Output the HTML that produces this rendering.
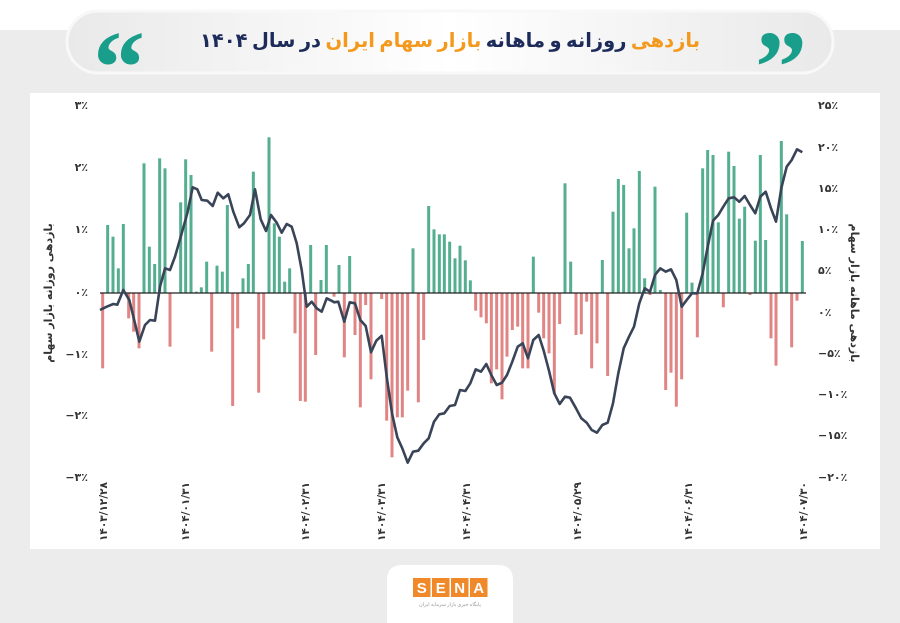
<!DOCTYPE html>
<html><head><meta charset="utf-8"><style>
body{margin:0;width:900px;height:623px;overflow:hidden;background:#ececec;font-family:"Liberation Sans","Noto Sans CJK SC",sans-serif}
</style></head><body>
<svg width="900" height="623" viewBox="0 0 900 623" xmlns="http://www.w3.org/2000/svg" id="s" style="position:absolute;left:0;top:0">
<defs><linearGradient id="pg" x1="0" x2="1"><stop offset="0" stop-color="#e9e9e9"/><stop offset="0.5" stop-color="#ffffff"/><stop offset="1" stop-color="#e9e9e9"/></linearGradient></defs>
<rect x="0" y="0" width="900" height="623" fill="#ececec"/>
<rect x="0" y="0" width="900" height="30" fill="#ffffff"/>
<rect x="30" y="93" width="850" height="456" fill="#ffffff"/>
<rect x="67" y="11" width="766" height="62" rx="31" fill="url(#pg)" stroke="#f8f8f8" stroke-width="3"/>
<text x="119" y="102" font-size="104" font-weight="bold" fill="#1a9e8c" text-anchor="middle" font-family="Liberation Serif,serif">&#8220;</text>
<text x="781" y="102" font-size="104" font-weight="bold" fill="#1a9e8c" text-anchor="middle" font-family="Liberation Serif,serif">&#8221;</text>
<text x="450" y="47" font-size="19.5" font-weight="bold" text-anchor="middle" direction="rtl" font-family="'Noto Sans CJK SC','DejaVu Sans',sans-serif"><tspan fill="#f39a1e">بازدهی</tspan><tspan fill="#1c2b5a"> روزانه و ماهانه </tspan><tspan fill="#f39a1e">بازار سهام ایران</tspan><tspan fill="#1c2b5a"> در سال ۱۴۰۴</tspan></text>
<g id="plot"></g>
<g font-size="11" font-weight="bold" fill="#333" font-family="'DejaVu Sans',sans-serif">
<g text-anchor="end">
<text x="88" y="109">۳٪</text><text x="88" y="171">۲٪</text><text x="88" y="233">۱٪</text><text x="88" y="296">۰٪</text>
<text x="88" y="358">−۱٪</text><text x="88" y="419">−۲٪</text><text x="88" y="481">−۳٪</text></g>
<g text-anchor="start">
<text x="818" y="109">۲۵٪</text><text x="818" y="151">۲۰٪</text><text x="818" y="192">۱۵٪</text><text x="818" y="233">۱۰٪</text>
<text x="818" y="274">۵٪</text><text x="818" y="316">۰٪</text><text x="818" y="357">−۵٪</text><text x="818" y="398">−۱۰٪</text>
<text x="818" y="439">−۱۵٪</text><text x="818" y="481">−۲۰٪</text></g>
<text transform="translate(52,293) rotate(-90)" text-anchor="middle" font-size="11">بازدهی روزانه بازار سهام</text>
<text transform="translate(851,293) rotate(90)" text-anchor="middle" font-size="11">بازدهی ماهانه بازار سهام</text>
<g id="xl" font-size="10.5"></g>
</g>
<path d="M387 623 V580 Q387 565 402 565 H498 Q513 565 513 580 V623 Z" fill="#ffffff"/>
<g font-size="15" font-weight="bold" fill="#fff" text-anchor="middle">
<rect x="413" y="578" width="17.5" height="19" fill="#f0892a"/><rect x="432" y="578" width="17.5" height="19" fill="#f0892a"/>
<rect x="451" y="578" width="17.5" height="19" fill="#f0892a"/><rect x="470" y="578" width="17.5" height="19" fill="#f0892a"/>
<text x="421.7" y="593">S</text><text x="440.7" y="593">E</text><text x="459.7" y="593">N</text><text x="478.7" y="593">A</text></g>
<text x="450" y="606" font-size="5" fill="#999" text-anchor="middle" font-family="'Noto Sans CJK SC',sans-serif">پایگاه خبری بازار سرمایه ایران</text>
</svg>
<script>
var NS="http://www.w3.org/2000/svg";
function el(t,a,p){var e=document.createElementNS(NS,t);for(var k in a)e.setAttribute(k,a[k]);p.appendChild(e);return e;}
var plot=document.getElementById('plot');
var b4=[[8,805],[23,375],[39,410],[55,505],[70,372],[86,655],[101,695],[117,745],[132,190],[148,440],[164,492],[179,175],[195,205],[210,740],[242,307],[257,178],[273,225],[289,575],[304,562],[320,485],[335,755],[351,497],[367,515],[382,315],[398,918],[413,685],[429,535],[445,492],[460,215],[476,878],[491,718],[507,112],[523,370],[538,410],[554,545],[569,505],[585,700],[601,903],[616,905],[632,435],[647,765],[663,540],[679,435]];
var b5=[[12,590],[27,495],[43,772],[59,468],[75,705],[91,922],[107,615],[123,838],[155,597],[170,962],[186,1072],[202,952],[217,952],[233,872],[249,445],[265,907],[281,720],[296,318],[312,388],[328,403],[343,403],[359,425],[375,475],[390,437],[406,481],[421,541],[437,632],[453,652],[469,670],[484,850],[500,808],[516,898],[531,770],[547,690],[563,680],[578,805],[594,805],[610,470],[626,638],[641,715],[657,760],[673,880],[689,672],[705,250]];
var b6=[[32,485],[48,705],[64,703],[80,605],[95,805],[111,730],[127,480],[143,828],[159,335],[175,237],[191,255],[207,445],[222,385],[238,213],[254,535],[270,585],[285,260],[301,570],[317,870],[333,818],[349,920],[365,838],[380,338],[396,548],[412,712],[428,205],[443,150],[459,165],[475,367],[490,622],[506,155],[522,198],[538,356],[554,320],[570,585],[586,422],[601,165],[617,420],[633,715],[648,797],[664,123],[680,343],[695,742],[711,602],[727,423]];
function bars(arr,ox){arr.forEach(function(b){var x=ox+b[0]/3,y=100+b[1]/3;var pos=y<293;
el('rect',{x:x-1.5,y:pos?y:293,width:3,height:Math.abs(y-293),fill:pos?'#55ae8f':'#e08584'},plot);});}
bars(b4,100);bars(b5,330);bars(b6,560);
el('line',{x1:100,y1:293,x2:806,y2:293,stroke:'#222','stroke-width':1.2},plot);
var l4=[[0,630],[20,620],[40,612],[52,614],[70,570],[88,600],[105,670],[118,725],[135,675],[150,660],[165,662],[180,560],[195,505],[210,510],[225,470],[245,400],[262,340],[278,262],[292,268],[305,300],[322,302],[338,318],[353,278],[370,295],[385,283],[400,335],[418,382],[432,370],[450,345],[465,268],[482,358],[498,393],[513,345],[530,368],[545,398],[560,372],[575,380],[590,430],[605,510],[620,620],[635,605],[650,625],[665,635],[680,595],[700,605]];
var l5=[[12,607],[25,605],[43,665],[59,607],[75,610],[91,660],[107,678],[123,757],[139,722],[155,707],[170,830],[186,940],[202,1012],[217,1045],[233,1088],[249,1055],[265,1052],[281,1030],[296,1015],[312,965],[328,943],[343,940],[359,918],[375,915],[390,870],[406,873],[421,850],[437,808],[453,815],[469,792],[484,825],[500,855],[516,848],[531,825],[547,785],[563,740],[578,730],[594,775],[610,720],[626,705],[641,752],[657,812],[673,880],[689,912],[705,890]];
var l6=[[30,893],[48,925],[64,955],[80,968],[95,990],[111,998],[127,975],[143,968],[159,910],[175,820],[191,745],[207,710],[222,680],[238,610],[254,565],[270,575],[285,525],[301,505],[317,515],[333,508],[349,540],[365,620],[380,600],[396,580],[412,580],[428,520],[443,440],[459,362],[475,345],[490,320],[506,295],[522,292],[538,305],[554,288],[570,315],[586,340],[601,290],[617,275],[633,325],[648,365],[664,265],[680,200],[695,180],[711,148],[727,157]];
var pts=[];l4.forEach(function(p){pts.push((100+p[0]/3).toFixed(1)+','+(100+p[1]/3).toFixed(1));});
l5.forEach(function(p){pts.push((330+p[0]/3).toFixed(1)+','+(100+p[1]/3).toFixed(1));});
l6.forEach(function(p){pts.push((560+p[0]/3).toFixed(1)+','+(100+p[1]/3).toFixed(1));});
el('polyline',{points:pts.join(' '),fill:'none',stroke:'#3a4458','stroke-width':2.6,'stroke-linejoin':'round'},plot);
var xl=document.getElementById('xl');
[[103,'۱۴۰۳/۱۲/۲۸'],[185,'۱۴۰۴/۰۱/۳۱'],[305,'۱۴۰۴/۰۲/۳۱'],[381,'۱۴۰۴/۰۳/۳۱'],[466,'۱۴۰۴/۰۴/۳۱'],[577,'۱۴۰۴/۰۵/۲۹'],[688,'۱۴۰۴/۰۶/۳۱'],[803,'۱۴۰۴/۰۷/۳۰']].forEach(function(d){
var t=el('text',{transform:'translate('+(d[0]+4)+',541) rotate(-90)','text-anchor':'start'},xl);t.textContent=d[1];});
</script>
</body></html>
